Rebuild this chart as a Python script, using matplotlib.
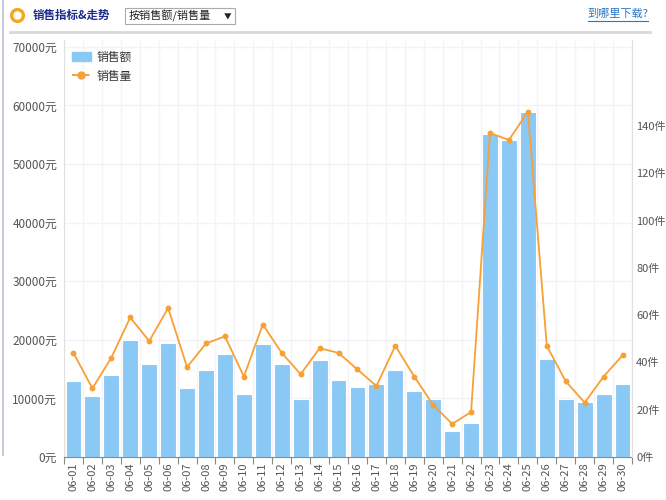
import matplotlib.pyplot as plt
from matplotlib.patches import FancyBboxPatch
from matplotlib.lines import Line2D
from matplotlib.patches import Patch

plt.rcParams['font.family'] = ['Noto Sans CJK SC', 'DejaVu Sans']

# Data
days = ['06-%02d' % d for d in range(1, 31)]
sales_amount = [12970, 10410, 13940, 19970, 15870, 19500, 11770, 14850, 17520, 10700,
                19280, 15870, 9950, 16550, 13090, 11890, 12460, 14790, 11320, 9950,
                4380, 5750, 55120, 54100, 58870, 16720, 9840, 9390, 10700, 12460]
sales_volume = [44, 29, 42, 59, 49, 63, 38, 48, 51, 34,
                56, 44, 35, 46, 44, 37, 30, 47, 34, 22,
                14, 19, 137, 134, 146, 47, 32, 23, 34, 43]
left_ticks = [0, 10000, 20000, 30000, 40000, 50000, 60000, 70000]
right_ticks = [0, 20, 40, 60, 80, 100, 120, 140]

bar_color = '#8ac8f6'
line_color = '#f7a035'
txt_color = '#555555'

fig = plt.figure(figsize=(6.66, 5), dpi=100)

# ------- header
fig.add_artist(Line2D([3/666, 3/666], [1 - 455/500, 1], color='#b8c0d4', lw=1.2))
fig.add_artist(Line2D([10/666, 650/666], [1 - 32/500, 1 - 32/500], color='#d8d8d8', lw=2))
fig.add_artist(Line2D([17/666], [1 - 15/500], marker='o', markersize=8.5,
                      markerfacecolor='white', markeredgecolor='#f5a623',
                      markeredgewidth=2.4, linestyle='none'))
fig.text(33/666, 1 - 15/500, '销售指标&走势', fontsize=8.3, fontweight='bold',
         color='#1e2a8c', va='center', ha='left')
box = FancyBboxPatch((125/666, 1 - 24/500), 110/666, 16/500, transform=fig.transFigure,
                     boxstyle='square,pad=0', facecolor='white', edgecolor='#aaaaaa', lw=0.8)
fig.add_artist(box)
fig.text(129/666, 1 - 16/500, '按销售额/销售量', fontsize=8, color='#222222',
         va='center', ha='left')
fig.text(228/666, 1 - 17/500, '▼', fontsize=5.5, color='#222222', va='center', ha='center')
fig.text(648/666, 1 - 14/500, '到哪里下载?', fontsize=8, color='#2a76c6',
         va='center', ha='right')
fig.add_artist(Line2D([588/666, 648/666], [1 - 21/500, 1 - 21/500], color='#2a76c6', lw=0.8))

# ------- chart
ax = fig.add_axes([64/666, 43/500, 568/666, 417/500])
x = list(range(len(days)))
ax.bar(x, sales_amount, width=0.84, color=bar_color, edgecolor='white', linewidth=0.8,
       zorder=2)
ax.set_xlim(-0.5, len(days) - 0.5)
ax.set_ylim(0, 71160)
ax.set_yticks(left_ticks)
ax.set_yticklabels(['%d元' % v for v in left_ticks], fontsize=8.5, color=txt_color)
ax.set_xticks(x)
ax.set_xticklabels(days, rotation=90, fontsize=8, color=txt_color)
ax.set_xticks([i - 0.5 for i in range(len(days) + 1)], minor=True)
ax.tick_params(axis='x', which='major', length=0, pad=4)
ax.tick_params(axis='x', which='minor', length=5, color='#888888', width=0.8)
ax.tick_params(axis='y', length=0, pad=5)
ax.grid(axis='y', color='#f3f3f6', lw=1, zorder=0)
ax.grid(axis='x', which='minor', color='#f3f3f8', lw=1, zorder=0)
for s in ['top', 'right']:
    ax.spines[s].set_visible(False)
ax.spines['left'].set_color('#e0e0e0')
ax.spines['bottom'].set_color('#888888')

ax2 = ax.twinx()
ax2.plot(x, sales_volume, color=line_color, lw=1.3, marker='o', markersize=3.2, zorder=3)
ax2.set_ylim(0, 176.3)
ax2.set_yticks(right_ticks)
ax2.set_yticklabels(['%d件' % v for v in right_ticks], fontsize=8, color=txt_color)
ax2.tick_params(axis='y', length=0, pad=3)
for s in ['top', 'left', 'bottom']:
    ax2.spines[s].set_visible(False)
ax2.spines['right'].set_color('#e0e0e0')

handles = [Patch(facecolor=bar_color, edgecolor=bar_color, label='销售额'),
           Line2D([0], [0], color=line_color, lw=1.4, ls='--', marker='o', markersize=5,
                  label='销售量')]
ax2.legend(handles=handles, loc='upper left', bbox_to_anchor=(-0.005, 1.0), frameon=False,
           fontsize=8.5, handlelength=1.6, handletextpad=0.5, labelcolor='#333333')

fig.savefig('out.png', dpi=100)
